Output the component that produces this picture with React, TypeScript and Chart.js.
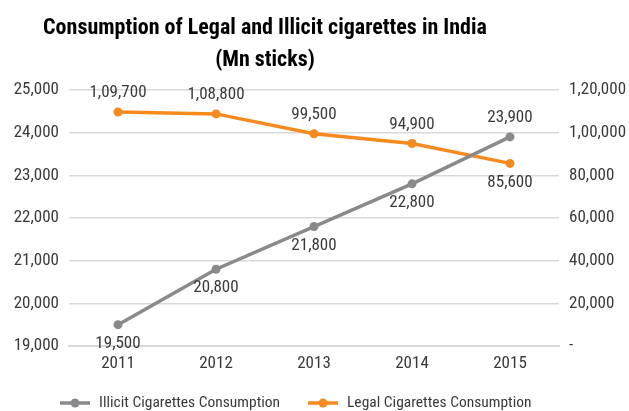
import React, { useEffect, useRef } from "react";
import { Chart, registerables } from "chart.js";

Chart.register(...registerables);

const years = ["2011", "2012", "2013", "2014", "2015"];
const illicitValues = [19500, 20800, 21800, 22800, 23900];
const legalValues = [109700, 108800, 99500, 94900, 85600];
const illicitLabelPos = ["below", "below", "below", "below", "above"];
const legalLabelPos = ["above", "above", "above", "above", "below"];
const titleLines = ["Consumption of Legal and Illicit cigarettes in India", "(Mn sticks)"];
const seriesNames = ["Illicit Cigarettes Consumption", "Legal Cigarettes Consumption"];

const FONT = "'Liberation Sans Narrow', 'Roboto Condensed', 'Arial Narrow', 'Liberation Sans', sans-serif";
const GREY = "#8a8a8c";
const ORANGE = "#f68a1f";
const TEXT = "#3a3a3a";

function indianFormat(v: number): string {
  if (v === 0) return "-";
  const s = Math.round(v).toString();
  if (s.length <= 3) return s;
  const last3 = s.slice(-3);
  let rest = s.slice(0, -3);
  const parts: string[] = [];
  while (rest.length > 2) {
    parts.unshift(rest.slice(-2));
    rest = rest.slice(0, -2);
  }
  if (rest.length) parts.unshift(rest);
  return parts.join(",") + "," + last3;
}

const labelPlugin = {
  id: "customLabels",
  afterDatasetsDraw(chart: any) {
    const ctx = chart.ctx;
    ctx.save();
    ctx.font = `17px ${FONT}`;
    ctx.fillStyle = TEXT;
    ctx.textAlign = "center";
    ctx.textBaseline = "middle";
    chart.data.datasets.forEach((ds: any, i: number) => {
      const meta = chart.getDatasetMeta(i);
      const pos = ds.labelPos as string[];
      meta.data.forEach((pt: any, j: number) => {
        const dy = pos[j] === "above" ? -19 : 19;
        ctx.fillText(indianFormat(ds.data[j]), pt.x, pt.y + dy);
      });
    });
    ctx.restore();
  },
  afterDraw(chart: any) {
    const ctx = chart.ctx;
    ctx.save();
    // title
    ctx.font = `bold 22px ${FONT}`;
    ctx.fillStyle = "#000";
    ctx.textAlign = "center";
    ctx.textBaseline = "middle";
    ctx.fillText(titleLines[0], 265, 28);
    ctx.fillText(titleLines[1], 265, 60);
    // legend
    const items = [
      { x: 60, name: seriesNames[0], color: GREY },
      { x: 308, name: seriesNames[1], color: ORANGE },
    ];
    const y = 403;
    items.forEach((it) => {
      ctx.strokeStyle = it.color;
      ctx.lineWidth = 3.5;
      ctx.beginPath();
      ctx.moveTo(it.x, y);
      ctx.lineTo(it.x + 30, y);
      ctx.stroke();
      ctx.fillStyle = it.color;
      ctx.beginPath();
      ctx.arc(it.x + 15, y, 4.5, 0, Math.PI * 2);
      ctx.fill();
      ctx.fillStyle = TEXT;
      ctx.font = `15.5px ${FONT}`;
      ctx.textAlign = "left";
      ctx.fillText(it.name, it.x + 39, y);
    });
    ctx.restore();
  },
};

export default function App() {
  const ref = useRef<HTMLCanvasElement>(null);
  useEffect(() => {
    document.body.style.margin = "0";
    const chart = new Chart(ref.current!, {
      type: "line",
      data: {
        labels: years,
        datasets: [
          {
            label: seriesNames[0],
            data: illicitValues,
            borderColor: GREY,
            backgroundColor: GREY,
            borderWidth: 3.5,
            pointRadius: 4.5,
            pointBackgroundColor: GREY,
            pointBorderWidth: 0,
            yAxisID: "y",
            labelPos: illicitLabelPos,
          } as any,
          {
            label: seriesNames[1],
            data: legalValues,
            borderColor: ORANGE,
            backgroundColor: ORANGE,
            borderWidth: 3.5,
            pointRadius: 4.5,
            pointBackgroundColor: ORANGE,
            pointBorderWidth: 0,
            yAxisID: "y1",
            labelPos: legalLabelPos,
          } as any,
        ],
      },
      options: {
        animation: false,
        responsive: false,
        maintainAspectRatio: false,
        layout: { padding: { top: 90, bottom: 35, left: 0, right: 0 } },
        plugins: {
          legend: { display: false },
          title: { display: false },
          tooltip: { enabled: false },
        },
        scales: {
          x: {
            offset: true,
            grid: { display: false, drawTicks: false },
            border: { color: "#d9d9d9", width: 2 },
            ticks: { color: TEXT, font: { family: FONT, size: 17 }, padding: 8 },
            afterFit: (s: any) => { s.height = 30; },
          },
          y: {
            position: "left",
            min: 19000,
            max: 25000,
            ticks: {
              stepSize: 1000,
              color: TEXT,
              font: { family: FONT, size: 17 },
              padding: 10,
              callback: (v: any) => indianFormat(Number(v)),
            },
            grid: { color: "#d9d9d9", lineWidth: 1.5, drawTicks: false },
            border: { display: false },
            afterFit: (s: any) => { s.width = 69; },
          },
          y1: {
            position: "right",
            min: 0,
            max: 120000,
            ticks: {
              stepSize: 20000,
              color: TEXT,
              font: { family: FONT, size: 17 },
              padding: 10,
              callback: (v: any) => indianFormat(Number(v)),
            },
            grid: { display: false, drawTicks: false },
            border: { display: false },
            afterFit: (s: any) => { s.width = 70; },
          },
        },
      },
      plugins: [labelPlugin],
    });
    return () => chart.destroy();
  }, []);
  return (
    <div style={{ width: 629, height: 411 }}>
      <canvas ref={ref} width={629} height={411} style={{ display: "block" }} />
    </div>
  );
}
